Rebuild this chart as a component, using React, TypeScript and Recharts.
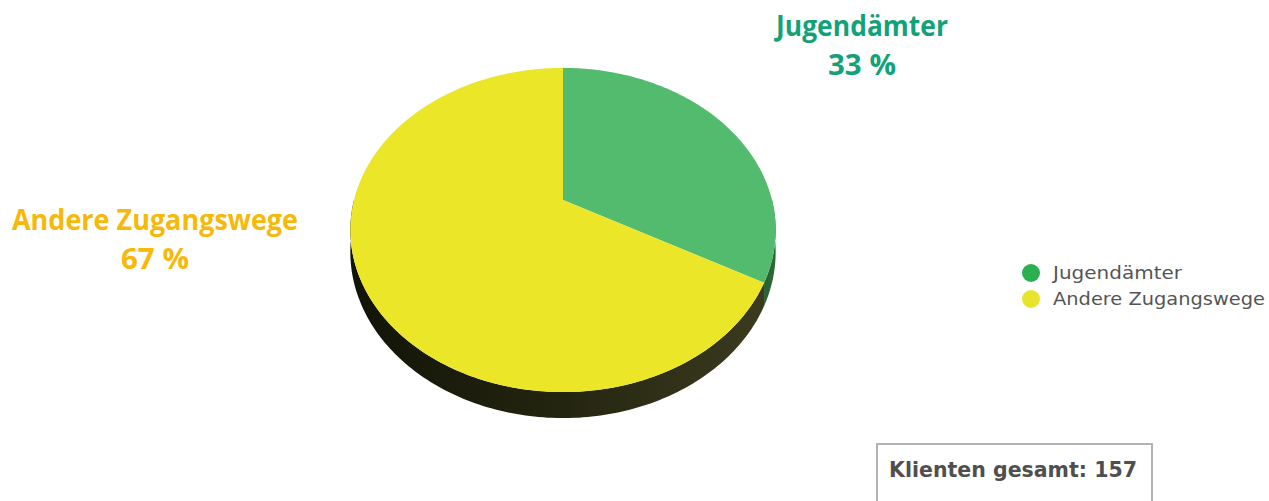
import React from 'react';
import { PieChart, Pie, Cell, Legend } from 'recharts';

const categories: string[] = ['Jugendämter', 'Andere Zugangswege'];
const shares: number[] = [33, 67];
const shareLabels: string[] = ['33 %', '67 %'];
const totalLabel = 'Klienten gesamt: 157';

const topColors = ['#52bb6e', '#ebe627'];
const legendColors = ['#2bb04f', '#e7e52b'];
const labelColors = ['#12a27a', '#f6b90a'];
const sideFills = ['url(#sideGreen)', 'url(#sideDark)'];

const data = categories.map((name, i) => ({ name, value: shares[i] }));

const K = 0.185; // perspective factor
const SY = 0.749; // vertical squash
const H0 = 21.2; // side thickness

function proj(deg: number, R: number, cx: number, cy: number, down = 0) {
  const t = (deg * Math.PI) / 180;
  const u = Math.cos(t);
  const v = Math.sin(t);
  const d = 1 + K * v;
  return [cx + (R * u) / d, cy - (R * SY * v) / d + (down ? down / d : 0)];
}

function sample(a: number, b: number) {
  const n = Math.max(2, Math.ceil(Math.abs(b - a) / 1));
  const out: number[] = [];
  for (let i = 0; i <= n; i++) out.push(a + ((b - a) * i) / n);
  return out;
}

const TopShape = (props: any) => {
  const { cx, cy, startAngle, endAngle, outerRadius, fill } = props;
  const pts = sample(startAngle, endAngle).map((a) => proj(a, outerRadius, cx, cy));
  const d = `M${cx},${cy} ` + pts.map((p) => `L${p[0].toFixed(2)},${p[1].toFixed(2)}`).join(' ') + ' Z';
  return <path d={d} fill={fill} stroke="none" />;
};

const SideShape = (props: any) => {
  const { cx, cy, startAngle, endAngle, outerRadius, fill } = props;
  const lo = Math.max(Math.min(startAngle, endAngle), -180);
  const hi = Math.min(Math.max(startAngle, endAngle), 0);
  if (hi <= lo) return <g />;
  const angs = sample(lo, hi);
  const top = angs.map((a) => proj(a, outerRadius, cx, cy));
  const bot = angs.slice().reverse().map((a) => proj(a, outerRadius, cx, cy, H0));
  const all = top.concat(bot);
  const d = 'M' + all.map((p) => `${p[0].toFixed(2)},${p[1].toFixed(2)}`).join(' L') + ' Z';
  return <path d={d} fill={fill} stroke="none" />;
};

const labelPos = [
  { x: 862, y: 36, w1: 172, w2: 68 },
  { x: 155, y: 230, w1: 286, w2: 68 },
];

const renderLabel = (p: any) => {
  const i = p.index;
  const pos = labelPos[i];
  return (
    <g key={`lbl-${i}`}>
      <text
        x={pos.x}
        y={pos.y}
        textAnchor="middle"
        fill={labelColors[i]}
        fontFamily="'Liberation Sans Narrow', 'Open Sans', sans-serif"
        fontWeight={700}
        fontSize={29}
        textLength={pos.w1}
        lengthAdjust="spacingAndGlyphs"
      >
        {categories[i]}
      </text>
      <text
        x={pos.x}
        y={pos.y + 39}
        textAnchor="middle"
        fill={labelColors[i]}
        fontFamily="'Liberation Sans Narrow', 'Open Sans', sans-serif"
        fontWeight={700}
        fontSize={29}
        textLength={pos.w2}
        lengthAdjust="spacingAndGlyphs"
      >
        {shareLabels[i]}
      </text>
    </g>
  );
};

const legendWidths = [129, 212];

const LegendContent = () => (
  <svg width={250} height={60}>
    {categories.map((c, i) => (
      <g key={c}>
        <circle cx={11} cy={13 + i * 26} r={9} fill={legendColors[i]} />
        <text
          x={33}
          y={19 + i * 26}
          fill="#555555"
          fontFamily="'DejaVu Sans', sans-serif"
          fontSize={17}
          textLength={legendWidths[i]}
          lengthAdjust="spacingAndGlyphs"
        >
          {c}
        </text>
      </g>
    ))}
  </svg>
);

export default function App() {
  return (
    <div style={{ position: 'absolute', left: 0, top: 0, width: 1269, height: 501, background: '#ffffff', overflow: 'hidden' }}>
      <PieChart width={1269} height={501} margin={{ top: 0, right: 0, bottom: 0, left: 0 }}>
        <defs>
          <linearGradient id="sideDark" x1="352" y1="0" x2="776" y2="0" gradientUnits="userSpaceOnUse">
            <stop offset="0" stopColor="#121408" />
            <stop offset="0.45" stopColor="#22230f" />
            <stop offset="0.8" stopColor="#33331a" />
            <stop offset="1" stopColor="#3c3b20" />
          </linearGradient>
          <linearGradient id="sideGreen" x1="740" y1="0" x2="776" y2="0" gradientUnits="userSpaceOnUse">
            <stop offset="0" stopColor="#1f4f2a" />
            <stop offset="1" stopColor="#2c6a35" />
          </linearGradient>
        </defs>
        <Pie
          data={data}
          dataKey="value"
          nameKey="name"
          cx={563}
          cy={200}
          outerRadius={209}
          startAngle={90}
          endAngle={-270}
          isAnimationActive={false}
          shape={SideShape}
          activeShape={SideShape}
          stroke="none"
        >
          {data.map((d, i) => (
            <Cell key={d.name} fill={sideFills[i]} />
          ))}
        </Pie>
        <Pie
          data={data}
          dataKey="value"
          nameKey="name"
          cx={563}
          cy={200}
          outerRadius={209}
          startAngle={90}
          endAngle={-270}
          isAnimationActive={false}
          shape={TopShape}
          activeShape={TopShape}
          stroke="none"
          label={renderLabel}
          labelLine={false}
        >
          {data.map((d, i) => (
            <Cell key={d.name} fill={topColors[i]} />
          ))}
        </Pie>
        <Legend
          layout="vertical"
          align="right"
          verticalAlign="top"
          content={LegendContent}
          wrapperStyle={{ position: 'absolute', left: 1020, top: 260, width: 250 }}
        />
      </PieChart>
      <svg style={{ position: 'absolute', left: 0, top: 0 }} width={1269} height={501} pointerEvents="none">
        <path d="M877,501 L877,444 L1152,444 L1152,501" fill="#ffffff" stroke="#b3b3b3" strokeWidth={2} />
        <text
          x={889}
          y={477}
          fill="#4f4f4f"
          fontFamily="'DejaVu Sans', sans-serif"
          fontWeight={700}
          fontSize={21}
          textLength={248}
          lengthAdjust="spacingAndGlyphs"
        >
          {totalLabel}
        </text>
      </svg>
    </div>
  );
}
